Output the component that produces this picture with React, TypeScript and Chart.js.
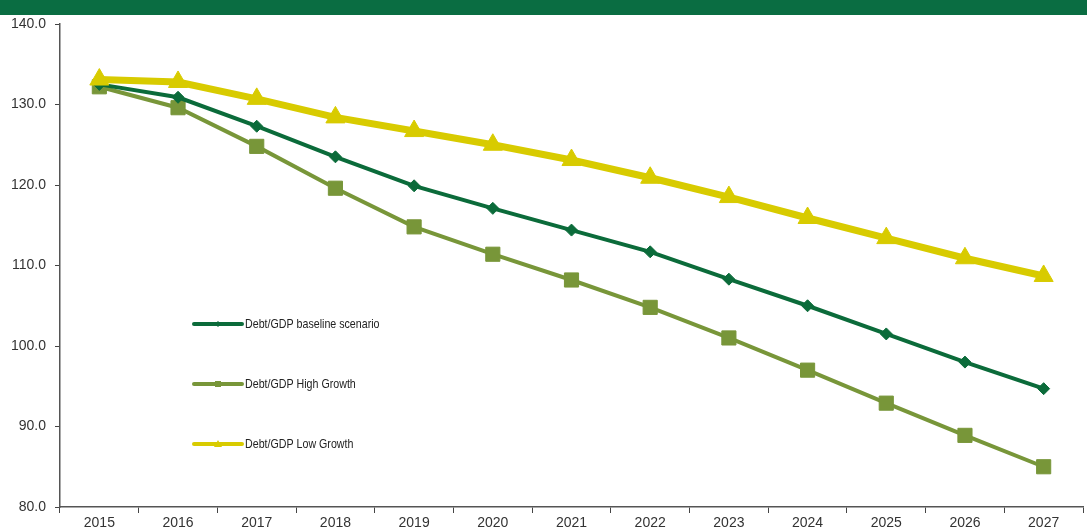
import React, { useEffect, useRef } from "react";
import { Chart, registerables } from "chart.js";

Chart.register(...registerables);

const years = ["2015", "2016", "2017", "2018", "2019", "2020", "2021", "2022", "2023", "2024", "2025", "2026", "2027"];
const baseline = [132.5, 130.9, 127.3, 123.5, 119.9, 117.1, 114.4, 111.7, 108.3, 105.0, 101.5, 98.0, 94.7];
const highGrowth = [132.2, 129.6, 124.8, 119.6, 114.8, 111.4, 108.2, 104.8, 101.0, 97.0, 92.9, 88.9, 85.0];
const lowGrowth = [133.1, 132.8, 130.7, 128.4, 126.7, 125.0, 123.1, 120.9, 118.5, 115.9, 113.4, 110.9, 108.7];
const seriesNames = ["Debt/GDP baseline scenario", "Debt/GDP High Growth", "Debt/GDP Low Growth"];

const DARK_GREEN = "#0b6b3a";
const OLIVE = "#789639";
const YELLOW = "#d8cb00";

const legendPlugin = {
  id: "inlineLegend",
  afterDraw(chart: any) {
    const ctx = chart.ctx;
    const { left, top } = chart.chartArea;
    chart.data.datasets.forEach((ds: any, i: number) => {
      const y = top + 300 + i * 60;
      const x0 = left + 134;
      ctx.save();
      ctx.strokeStyle = ds.borderColor;
      ctx.lineWidth = 4;
      ctx.lineCap = "round";
      ctx.beginPath();
      ctx.moveTo(x0, y);
      ctx.lineTo(x0 + 48, y);
      ctx.stroke();
      ctx.fillStyle = ds.borderColor;
      const cx = x0 + 24;
      ctx.beginPath();
      if (ds.pointStyle === "rectRot") {
        ctx.moveTo(cx, y - 3);
        ctx.lineTo(cx + 3, y);
        ctx.lineTo(cx, y + 3);
        ctx.lineTo(cx - 3, y);
      } else if (ds.pointStyle === "rect") {
        ctx.rect(cx - 3, y - 3, 6, 6);
      } else {
        ctx.moveTo(cx, y - 4);
        ctx.lineTo(cx + 4, y + 3);
        ctx.lineTo(cx - 4, y + 3);
      }
      ctx.closePath();
      ctx.fill();
      ctx.fillStyle = "#222";
      ctx.font = '13px "Liberation Sans", Arial, sans-serif';
      ctx.textBaseline = "middle";
      ctx.textAlign = "left";
      const w = ctx.measureText(ds.label).width;
      ctx.fillText(ds.label, x0 + 51, y, w * 0.82);
      ctx.restore();
    });
  },
};

export default function App() {
  const ref = useRef<HTMLCanvasElement>(null);
  useEffect(() => {
    if (!ref.current) return;
    const tickFont = { family: '"Liberation Sans", Arial, sans-serif', size: 14 };
    const chart = new Chart(ref.current, {
      type: "line",
      data: {
        labels: years,
        datasets: [
          {
            label: seriesNames[0],
            data: baseline,
            borderColor: DARK_GREEN,
            backgroundColor: DARK_GREEN,
            borderWidth: 4,
            pointStyle: "rectRot",
            pointRadius: 6,
            pointBorderWidth: 1,
            order: 2,
          },
          {
            label: seriesNames[1],
            data: highGrowth,
            borderColor: OLIVE,
            backgroundColor: OLIVE,
            borderWidth: 4,
            pointStyle: "rect",
            pointRadius: 10,
            pointBorderWidth: 1,
            order: 3,
          },
          {
            label: seriesNames[2],
            data: lowGrowth,
            borderColor: YELLOW,
            backgroundColor: YELLOW,
            borderWidth: 7,
            pointStyle: "triangle",
            pointRadius: 11,
            pointBorderWidth: 1,
            order: 1,
          },
        ],
      },
      options: {
        animation: false,
        responsive: false,
        maintainAspectRatio: false,
        layout: { autoPadding: false, padding: { top: 24, left: 0, right: 4, bottom: 0 } },
        plugins: { legend: { display: false }, tooltip: { enabled: false } },
        scales: {
          x: {
            offset: true,
            grid: { display: true, drawOnChartArea: false, drawTicks: true, tickLength: 6, offset: true, color: "#444" },
            border: { display: true, color: "#555", width: 1.5 },
            ticks: { color: "#333", font: tickFont, padding: 2, maxRotation: 0, autoSkip: false },
            afterFit: (s: any) => { s.height = 22; s.paddingLeft = 0; s.paddingRight = 0; },
          },
          y: {
            min: 80,
            max: 140,
            grid: { display: true, drawOnChartArea: false, drawTicks: true, tickLength: 5, color: "#444" },
            border: { display: true, color: "#555", width: 1.5 },
            ticks: {
              stepSize: 10,
              color: "#333",
              font: tickFont,
              padding: 9,
              callback: (v: any) => Number(v).toFixed(1),
            },
            afterFit: (s: any) => { s.width = 60; },
          },
        },
      },
      plugins: [legendPlugin],
    });
    return () => chart.destroy();
  }, []);
  return (
    <div style={{ position: "fixed", left: 0, top: 0, width: 1087, height: 529, background: "#fff", overflow: "hidden" }}>
      <div style={{ position: "absolute", left: 0, top: 0, width: 1087, height: 15, background: "#0a6d42" }} />
      <canvas ref={ref} width={1087} height={529} style={{ position: "absolute", left: 0, top: 0, width: 1087, height: 529 }} />
    </div>
  );
}
